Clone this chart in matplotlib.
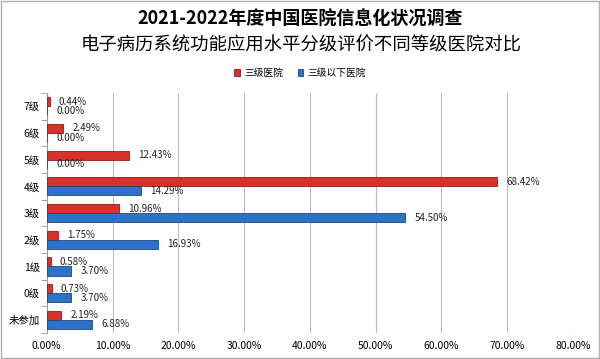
import numpy as np
import matplotlib.pyplot as plt
from matplotlib.ticker import FuncFormatter, MultipleLocator

plt.rcParams['font.family'] = ['Noto Sans CJK SC', 'DejaVu Sans']

# data, top row first
levels = ['7级', '6级', '5级', '4级', '3级', '2级', '1级', '0级', '未参加']
tier3 = [0.44, 2.49, 12.43, 68.42, 10.96, 1.75, 0.58, 0.73, 2.19]
below3 = [0.00, 0.00, 0.00, 14.29, 54.50, 16.93, 3.70, 3.70, 6.88]
series_names = ['三级医院', '三级以下医院']

fig = plt.figure(figsize=(6.0, 3.59), dpi=100)
fig.patches.append(plt.Rectangle((0.002, 0.003), 0.996, 0.994, transform=fig.transFigure,
                                 fill=False, edgecolor='#b0b0b0', linewidth=1.0))
ax = fig.add_axes([0.078, 0.072, 0.877, 0.669])

y = np.arange(len(levels))[::-1].astype(float)
h = 0.34
red_bars = ax.barh(y + h / 2, tier3, height=h, color='#d8302b', edgecolor='#8e1b18',
                   linewidth=0.6, label=series_names[0], zorder=3)
blue_bars = ax.barh(y - h / 2, below3, height=h, color='#2e72c8', edgecolor='#1b4787',
                    linewidth=0.6, label=series_names[1], zorder=3)

for bars, vals in ((red_bars, tier3), (blue_bars, below3)):
    for b, v in zip(bars, vals):
        ax.text(v + 1.4, b.get_y() + b.get_height() / 2, f'{v:.2f}%',
                va='center', ha='left', fontsize=7, color='#222222', zorder=4)

ax.set_xlim(0, 80)
ax.set_ylim(-0.5, len(levels) - 0.5)
ax.xaxis.set_major_locator(MultipleLocator(10))
ax.xaxis.set_major_formatter(FuncFormatter(lambda v, p: f'{v:.2f}%'))
ax.set_yticks(y)
ax.set_yticklabels(levels)
ax.set_yticks(np.arange(len(levels) + 1) - 0.5, minor=True)
ax.tick_params(axis='y', which='major', length=0, labelsize=7.5, pad=5)
ax.tick_params(axis='y', which='minor', length=4, color='#999999')
ax.tick_params(axis='x', length=0, labelsize=7.5, pad=6)
ax.grid(axis='x', color='#bdbdbd', linewidth=0.8, zorder=0)
for s in ('top', 'right', 'bottom'):
    ax.spines[s].set_visible(False)
ax.spines['left'].set_color('#999999')

fig.text(0.5, 0.945, '2021-2022年度中国医院信息化状况调查', ha='center', va='center',
         fontsize=13, fontweight='bold')
fig.text(0.502, 0.874, '电子病历系统功能应用水平分级评价不同等级医院对比', ha='center',
         va='center', fontsize=13.2)
fig.legend(handles=[red_bars, blue_bars], labels=series_names, loc='center',
           bbox_to_anchor=(0.5, 0.797), ncol=2, frameon=False, fontsize=7,
           handlelength=0.6, handleheight=0.6, columnspacing=1.5, handletextpad=0.4)

fig.savefig('out.png', dpi=100)
